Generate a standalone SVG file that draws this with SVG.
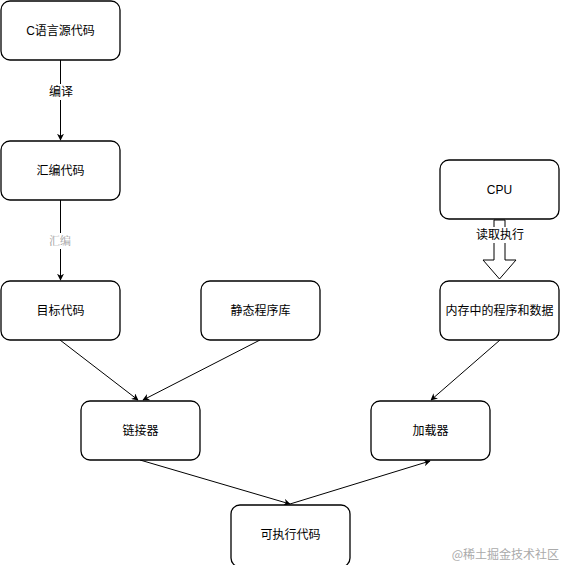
<svg xmlns="http://www.w3.org/2000/svg" width="561" height="565" viewBox="0 0 561 565">
<style>
.box{fill:#fff;stroke:#000;stroke-width:1.3}
.t{font-family:"Liberation Sans","Noto Sans CJK SC",sans-serif;font-size:12px;fill:#000;text-anchor:middle;dominant-baseline:central}
.e{stroke:#000;stroke-width:1;fill:none;marker-end:url(#a)}
</style>
<defs>
<marker id="a" viewBox="0 0 10 10" refX="9" refY="5" markerWidth="7" markerHeight="7" orient="auto" markerUnits="userSpaceOnUse">
<path d="M0,0 L10,5 L0,10 L3,5 Z" fill="#000"/>
</marker>
</defs>
<rect width="561" height="565" fill="#fff"/>
<g id="edges">
<line class="e" x1="60.5" y1="60" x2="60.5" y2="140"/>
<rect x="48" y="84" width="26" height="16" fill="#fff"/>
<text class="t" x="61" y="92">编译</text>
<line class="e" x1="60.5" y1="200" x2="60.5" y2="280"/>
<rect x="48" y="233" width="26" height="16" fill="#fff"/>
<text class="t" x="60" y="241" style="fill:#999;font-family:'Liberation Serif','Noto Serif CJK SC','Noto Sans CJK SC',serif;font-size:11px">汇编</text>
<line class="e" x1="60" y1="340" x2="138" y2="400"/>
<line class="e" x1="260" y1="340" x2="143" y2="400"/>
<line class="e" x1="500" y1="340" x2="431" y2="400"/>
<line class="e" x1="140" y1="460" x2="290" y2="504"/>
<line class="e" x1="290" y1="504" x2="430" y2="461"/>
<path d="M494,220 L505,220 L505,260 L516,260 L499.5,279 L483,260 L494,260 Z" fill="#fff" stroke="#000" stroke-width="1"/>
<rect x="476" y="227" width="48" height="16" fill="#fff"/>
<text class="t" x="500" y="235">读取执行</text>
</g>
<g id="n1"><rect class="box" x="1" y="1" width="119" height="59" rx="9"/><text class="t" x="60.5" y="30.5">C语言源代码</text></g>
<g id="n2"><rect class="box" x="1" y="141" width="119" height="59" rx="9"/><text class="t" x="60.5" y="170.5">汇编代码</text></g>
<g id="n3"><rect class="box" x="1" y="281" width="119" height="59" rx="9"/><text class="t" x="60.5" y="310.5">目标代码</text></g>
<g id="n4"><rect class="box" x="201" y="281" width="119" height="59" rx="9"/><text class="t" x="260.5" y="310.5">静态程序库</text></g>
<g id="n5"><rect class="box" x="440" y="160" width="119" height="59" rx="9"/><text class="t" x="499.5" y="190">CPU</text></g>
<g id="n6"><rect class="box" x="440" y="281" width="119" height="59" rx="9"/><text class="t" x="499.5" y="310.5">内存中的程序和数据</text></g>
<g id="n7"><rect class="box" x="81" y="401" width="119" height="59" rx="9"/><text class="t" x="140.5" y="430.5">链接器</text></g>
<g id="n8"><rect class="box" x="371" y="401" width="119" height="59" rx="9"/><text class="t" x="430.5" y="430.5">加载器</text></g>
<g id="n9"><rect class="box" x="231" y="505" width="119" height="62" rx="9"/><text class="t" x="290.5" y="535">可执行代码</text></g>
<text x="559" y="553" style="font-family:'Noto Sans CJK SC',sans-serif;font-size:12px;fill:#aaa;text-anchor:end;dominant-baseline:central">@稀土掘金技术社区</text>
</svg>
